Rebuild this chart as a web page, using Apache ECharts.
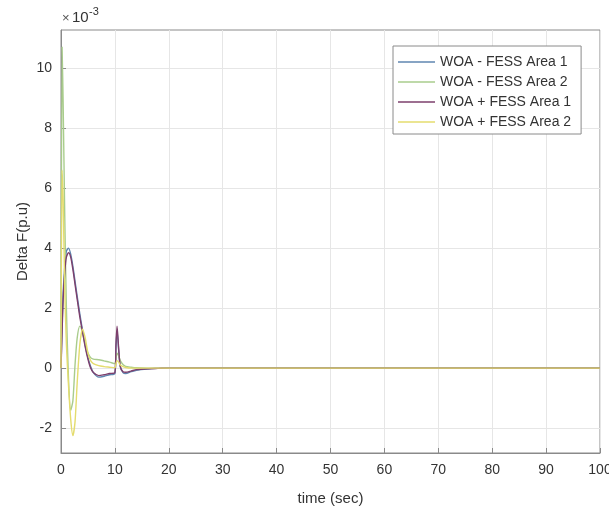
<!DOCTYPE html>
<html>
<head>
<meta charset="utf-8">
<script src="https://cdn.jsdelivr.net/npm/echarts@6/dist/echarts.min.js"></script>
<style>
  html, body { margin: 0; padding: 0; background: #fff; }
  #main { width: 609px; height: 508px; }
</style>
</head>
<body>
<div id="main"></div>
<script>
// time axis (sec) shared by all four curves
var times = [0, 0.2, 0.4, 0.7, 1.0, 1.4, 1.8, 2.2, 2.6, 3.0, 3.5, 4.0, 4.5, 5, 5.5, 6, 7, 8, 9, 10,
             10.2, 10.4, 10.7, 11, 11.5, 12, 13, 14, 16, 18, 20, 25, 30, 50, 75, 100];

// Delta F values, in units of 1e-3 p.u.
var woaMinusArea1 = [0, 1.4, 2.5, 3.4, 3.9, 4.0, 3.8, 3.4, 2.9, 2.4, 1.8, 1.25, 0.75, 0.35, 0.05,
                     -0.15, -0.3, -0.27, -0.22, -0.18, 0.7, 1.25, 0.6, 0.05, -0.15, -0.18, -0.12,
                     -0.07, -0.03, -0.01, 0, 0, 0, 0, 0, 0];
var woaMinusArea2 = [0, 10.7, 8.8, 5.0, 2.0, -0.4, -1.4, -1.1, 0.1, 1.0, 1.4, 1.2, 0.8, 0.5, 0.35,
                     0.3, 0.28, 0.24, 0.2, 0.15, 0.35, 0.5, 0.4, 0.25, 0.12, 0.06, 0.03, 0.01, 0, 0,
                     0, 0, 0, 0, 0, 0];
var woaPlusArea1 = [0, 1.2, 2.3, 3.2, 3.7, 3.85, 3.7, 3.3, 2.8, 2.3, 1.7, 1.2, 0.7, 0.3, 0.0,
                    -0.15, -0.25, -0.22, -0.18, -0.15, 0.8, 1.4, 0.65, 0.05, -0.12, -0.14, -0.1,
                    -0.05, -0.02, -0.01, 0, 0, 0, 0, 0, 0];
var woaPlusArea2 = [0, 6.6, 5.6, 2.6, 0.8, -0.6, -1.7, -2.25, -1.8, -0.5, 0.8, 1.3, 1.0, 0.5, 0.25,
                    0.15, 0.08, 0.05, 0.03, 0.01, 0.15, 0.25, 0.2, 0.1, 0.05, 0.02, 0, 0, 0, 0,
                    0, 0, 0, 0, 0, 0];

var seriesNames = ['WOA - FESS Area 1', 'WOA - FESS Area 2', 'WOA + FESS Area 1', 'WOA + FESS Area 2'];
var seriesColors = ['#5f86b0', '#a9cc8c', '#7d3f6c', '#e4dc6e'];
var yTicks = [-2, 0, 2, 4, 6, 8, 10];

function pairs(vals) {
    var out = [];
    for (var i = 0; i < times.length; i++) {
        out.push([times[i], vals[i]]);
    }
    return out;
}

var allVals = [woaMinusArea1, woaMinusArea2, woaPlusArea1, woaPlusArea2];
var series = [];
for (var k = 0; k < allVals.length; k++) {
    series.push({
        name: seriesNames[k],
        type: 'line',
        data: pairs(allVals[k]),
        showSymbol: false,
        smooth: 0.25,
        lineStyle: { width: 1.4, color: seriesColors[k] },
        itemStyle: { color: seriesColors[k] }
    });
}

var myChart = echarts.init(document.getElementById('main'));
myChart.setOption({
    animation: false,
    textStyle: { fontFamily: 'Liberation Sans, Arial, sans-serif' },
    grid: {
        left: 61, right: 9, top: 30, bottom: 55,
        outerBoundsMode: 'none',
        containLabel: false,
        show: true, borderColor: '#8a8a8a', borderWidth: 1
    },
    legend: {
        orient: 'vertical',
        left: 393, top: 46,
        padding: [9, 10, 5, 5],
        itemWidth: 37, itemHeight: 14, itemGap: 6,
        backgroundColor: '#fff',
        borderColor: '#8a8a8a', borderWidth: 1, borderRadius: 0,
        icon: 'path://M0,6 L37,6 L37,7.5 L0,7.5 Z',
        textStyle: { fontSize: 14, color: '#333' },
        data: seriesNames
    },
    xAxis: {
        type: 'value',
        min: 0, max: 100, interval: 10,
        name: 'time (sec)',
        nameLocation: 'middle',
        nameGap: 38,
        nameMoveOverlap: false,
        nameTextStyle: { fontSize: 15, color: '#333' },
        axisLine: { onZero: false, lineStyle: { color: '#8a8a8a' } },
        axisTick: { inside: true, length: 5, lineStyle: { color: '#8a8a8a' } },
        axisLabel: { fontSize: 14, color: '#333', margin: 10 },
        splitLine: { show: true, lineStyle: { color: '#e6e6e6' } }
    },
    yAxis: {
        type: 'value',
        min: -2.83, max: 11.27,
        name: 'Delta F(p.u)',
        nameLocation: 'middle',
        nameGap: 31,
        nameMoveOverlap: false,
        nameTextStyle: { fontSize: 15, color: '#333' },
        axisLine: { show: true, onZero: false, lineStyle: { color: '#8a8a8a' } },
        axisTick: { show: true, inside: true, length: 5, customValues: yTicks, lineStyle: { color: '#8a8a8a' } },
        axisLabel: { fontSize: 14, color: '#333', margin: 9, customValues: yTicks },
        splitLine: { show: true, lineStyle: { color: '#e6e6e6' } }
    },
    graphic: [
        { type: 'text', left: 62, top: 12, style: { text: '\u00d7', fontSize: 13, fill: '#555' } },
        { type: 'text', left: 72, top: 10, style: { text: '10', fontSize: 15, fill: '#333' } },
        { type: 'text', left: 89, top: 6, style: { text: '-3', fontSize: 11, fill: '#333' } }
    ],
    series: series
});
</script>
</body>
</html>
